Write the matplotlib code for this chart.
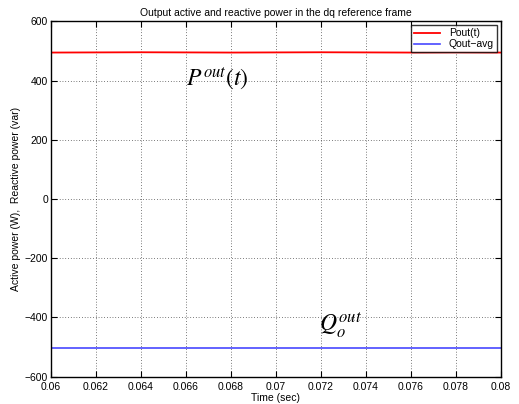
import matplotlib
matplotlib.use("Agg")
import matplotlib.pyplot as plt
import numpy as np

plt.rcParams['font.family'] = ['Liberation Sans', 'DejaVu Sans']
plt.rcParams['mathtext.fontset'] = 'stix'

time = np.array([0.060, 0.062, 0.064, 0.066, 0.068, 0.070, 0.072, 0.074, 0.076, 0.078, 0.080])
p_out = np.array([495, 495.5, 496, 495.5, 495, 495.5, 496, 495.5, 495, 495.5, 495])
q_out_avg = np.array([-503, -503, -503, -503, -503, -503, -503, -503, -503, -503, -503])
x_ticks = [0.06, 0.062, 0.064, 0.066, 0.068, 0.07, 0.072, 0.074, 0.076, 0.078, 0.08]
x_ticklabels = ['0.06', '0.062', '0.064', '0.066', '0.068', '0.07', '0.072', '0.074', '0.076', '0.078', '0.08']
y_ticks = [-600, -400, -200, 0, 200, 400, 600]

fig = plt.figure(figsize=(5.19, 4.04), dpi=100)
ax = fig.add_axes([0.0983, 0.068, 0.8664, 0.8788])

ax.plot(time, p_out, color='#ff0000', lw=1.3, label='Pout(t)')
ax.plot(time, q_out_avg, color='#4848ff', lw=1.2, label='Qout\u2212avg')

ax.set_xlim(0.06, 0.08)
ax.set_ylim(-600, 600)
ax.set_xticks(x_ticks)
ax.set_xticklabels(x_ticklabels)
ax.set_yticks(y_ticks)
ax.set_yticklabels(['\u2212600', '\u2212400', '\u2212200', '0', '200', '400', '600'])
ax.tick_params(direction='in', length=4, width=0.8, labelsize=7.5, top=True, right=True)
ax.tick_params(axis='x', pad=4)
ax.tick_params(axis='y', pad=2)
ax.grid(True, color='black', linestyle=(0, (1, 3)), linewidth=0.5)
for s in ax.spines.values():
    s.set_linewidth(1.0)

ax.set_title('Output active and reactive power in the dq reference frame', fontsize=7.5, pad=4)
ax.set_xlabel('Time (sec)', fontsize=7.5, labelpad=1)
ax.set_ylabel('Active power (W),  Reactive power (var)', fontsize=7.5, labelpad=3)

ax.text(0.0660, 385, r'$P^{out}(t)$', fontsize=17)
ax.text(0.0719, -448, r'$Q_o^{out}$', fontsize=17)

leg = ax.legend(loc='upper right', fontsize=7.5, frameon=True, fancybox=False,
                edgecolor='black', borderpad=0.3, labelspacing=0.1, handlelength=2.5,
                borderaxespad=0.35)
leg.get_frame().set_linewidth(1.0)

fig.savefig('out.png', dpi=100)
